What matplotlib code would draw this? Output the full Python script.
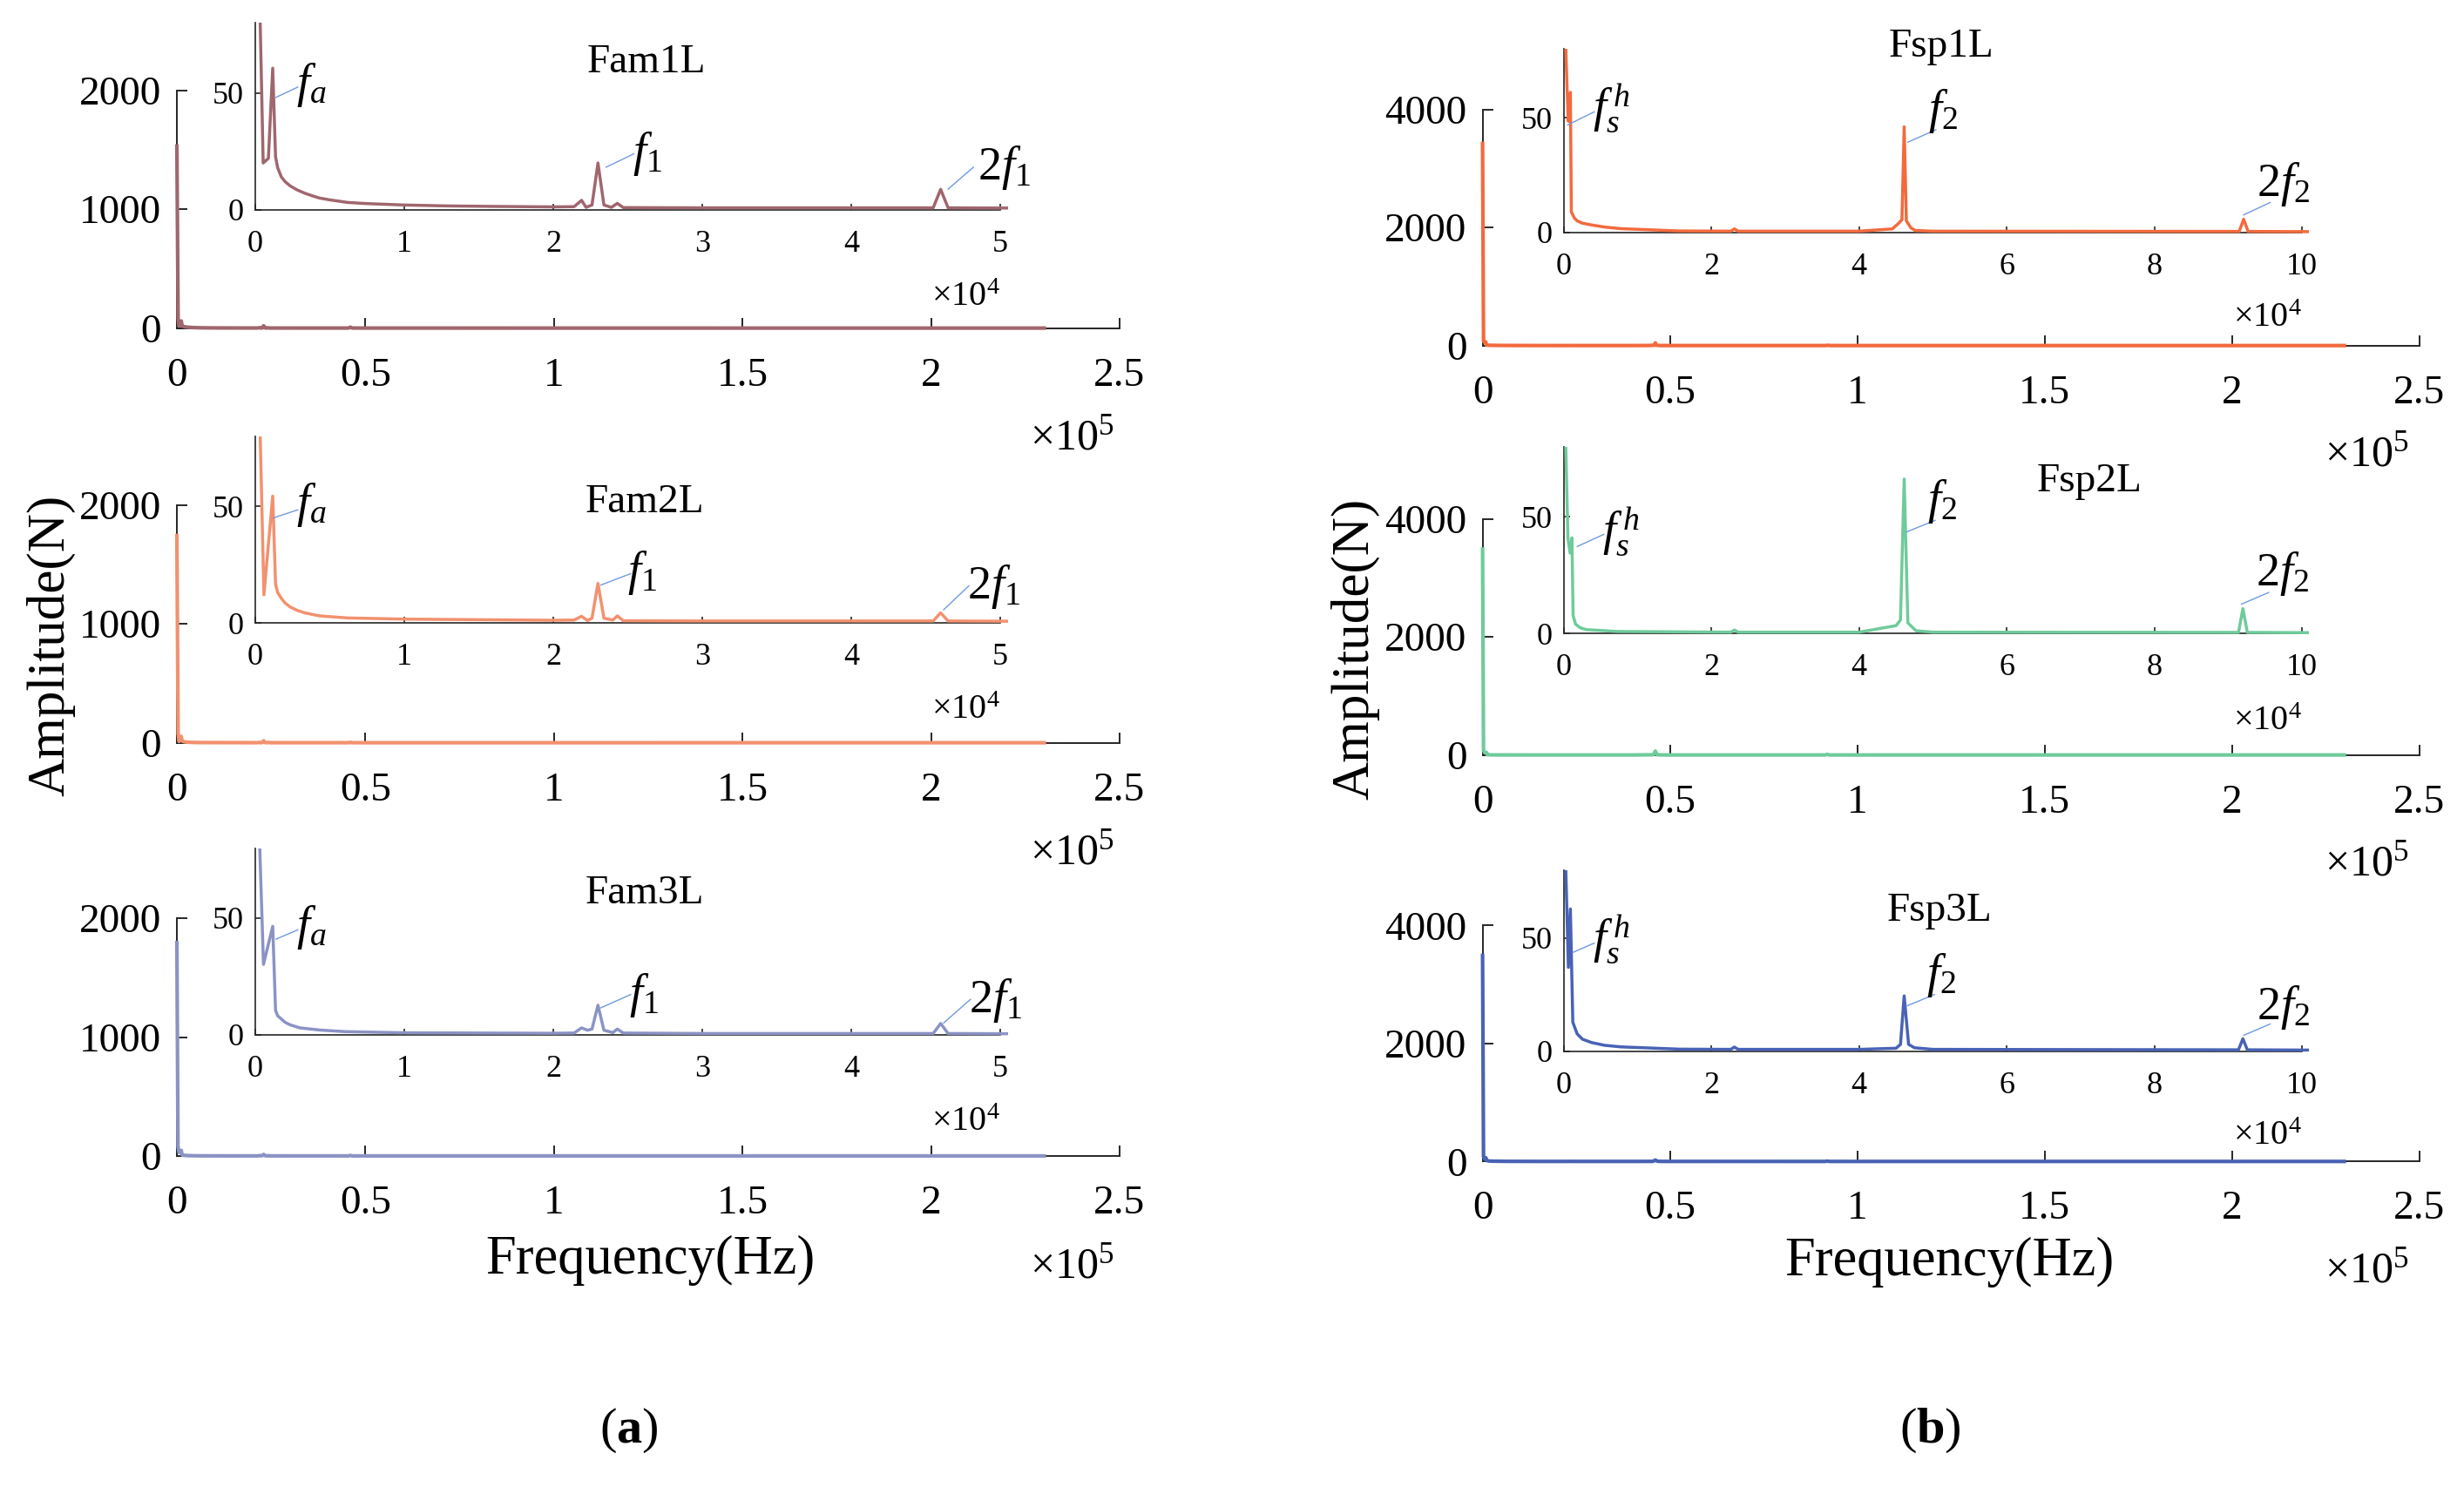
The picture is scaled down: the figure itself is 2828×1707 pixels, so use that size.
import matplotlib
matplotlib.use('Agg')
import matplotlib.pyplot as plt
from matplotlib.transforms import Bbox, TransformedBbox

plt.rcParams['font.family'] = ['Liberation Serif', 'DejaVu Serif']
plt.rcParams['mathtext.fontset'] = 'custom'
plt.rcParams['mathtext.rm'] = 'Liberation Serif'
plt.rcParams['mathtext.it'] = 'Liberation Serif:italic'
plt.rcParams['mathtext.bf'] = 'Liberation Serif:bold'

# ---------------- data (Hz, N) ----------------
fam1_freq = [0, 330, 530, 880, 1170, 1360, 1500, 1750, 2000, 2340, 2800, 3300, 3800, 4300, 5000,
             6200, 7500, 10000, 13000, 16000, 20000, 21400, 21900, 22200, 22600, 23000, 23400,
             23900, 24300, 24700, 30000, 45500, 46000, 46500, 50000, 100000, 230000]
fam1_amp = [1531, 80, 20, 22, 60.6, 22.6, 18, 14, 12, 10.2, 8.5, 7.1, 6, 5, 4.2,
            3.1, 2.6, 2, 1.6, 1.4, 1.2, 1.3, 4, 1.0, 2, 20, 2,
            1.0, 2.7, 0.9, 0.8, 0.8, 8.7, 0.8, 0.7, 0.6, 0.5]

fam2_freq = [0, 330, 580, 1170, 1360, 1500, 1750, 2000, 2340, 2800, 3300, 4300, 6200, 10000,
             20000, 21400, 21900, 22300, 22600, 23000, 23400, 24000, 24300, 24700, 30000,
             45500, 46000, 46500, 50000, 230000]
fam2_amp = [1743, 80, 12, 54.3, 16.7, 13, 10.5, 8.5, 6.8, 5.4, 4.3, 3.0, 2.1, 1.6,
            1.1, 1.2, 2.8, 1.0, 2.0, 16.9, 2.0, 1.2, 3.0, 0.9, 0.8,
            0.8, 4.3, 0.8, 0.7, 0.5]

fam3_freq = [0, 300, 550, 1170, 1360, 1500, 1750, 2000, 2340, 3000, 4300, 6000, 10000, 20000,
             21400, 21900, 22300, 22600, 23000, 23400, 24000, 24300, 24700, 30000, 45500, 46000,
             46500, 50000, 230000]
fam3_amp = [1794, 80, 30.2, 46.5, 10.5, 8.2, 6.8, 5.4, 4.3, 3.0, 2.1, 1.4, 0.9, 0.7,
            0.8, 3.0, 2.0, 2.5, 12.7, 2.0, 1.0, 2.5, 0.8, 0.6, 0.6, 4.9,
            0.6, 0.5, 0.4]

fsp1_freq = [0, 250, 450, 600, 870, 1000, 1400, 1780, 2500, 3750, 5500, 7700, 15600, 22600, 23100,
             23600, 40000, 44500, 45300, 45800, 46100, 46400, 47000, 47600, 50000, 91500, 92100,
             92700, 100000, 230000]
fsp1_amp = [3425, 80, 60, 48.4, 61, 8.9, 6.3, 5.0, 4.0, 3.2, 2.3, 1.6, 0.6, 0.5, 1.5,
            0.5, 0.5, 1.5, 3.8, 5.5, 46, 5.0, 2.0, 0.8, 0.5, 0.4, 5.7,
            0.4, 0.3, 0.3]

fsp2_freq = [0, 250, 540, 830, 1080, 1240, 1570, 2200, 3000, 7200, 22600, 23100, 23600, 40000,
             45000, 45600, 46100, 46600, 47700, 50000, 91400, 92000, 92600, 100000, 230000]
fsp2_amp = [3490, 80, 41, 34.5, 41, 7.7, 4.0, 2.5, 1.7, 0.9, 0.6, 1.5, 0.6, 0.6,
            3.4, 5.8, 66.2, 4.6, 1.2, 0.6, 0.5, 10.7, 0.5, 0.4, 0.4]

fsp3_freq = [0, 250, 600, 870, 1200, 1780, 2500, 3750, 5500, 7700, 15600, 22600, 23100, 23600,
             40000, 45000, 45600, 46100, 46700, 47500, 50000, 91400, 92000, 92600, 100000, 230000]
fsp3_amp = [3490, 80, 37, 62.8, 12.8, 7.7, 5.3, 3.8, 2.6, 1.9, 0.9, 0.8, 1.8, 0.8,
            0.8, 1.3, 3.0, 24.4, 3.0, 1.5, 0.8, 0.6, 5.5, 0.6, 0.5, 0.5]

panel_names = ['Fam1L', 'Fam2L', 'Fam3L', 'Fsp1L', 'Fsp2L', 'Fsp3L']
panel_colors = ['#A0666E', '#F2916F', '#8B93C5', '#F36A3D', '#6FCB9B', '#4862B5']

main_xticks = [0, 50000, 100000, 150000, 200000, 250000]
main_xticklabels = ['0', '0.5', '1', '1.5', '2', '2.5']
left_yticks = [0, 1000, 2000]
right_yticks = [0, 2000, 4000]
left_inset_xticks = [0, 10000, 20000, 30000, 40000, 50000]
left_inset_xticklabels = ['0', '1', '2', '3', '4', '5']
right_inset_xticks = [0, 20000, 40000, 60000, 80000, 100000]
right_inset_xticklabels = ['0', '2', '4', '6', '8', '10']
inset_yticks = [0, 50]

# annotations: label, peak point (line start), line end, text anchor
ann_labels_left = [r'$f_a$', r'$f_1$', r'$\mathit{2}f_1$']
ann_labels_right = [r'$f_s^{\,h}$', r'$f_2$', r'$\mathit{2}f_2$']
ann_left = [
    [((1390, 48.1), (2850, 52.5), (2750, 53.5)),
     ((23550, 18.2), (25400, 23.9), (25300, 23.8)),
     ((46500, 8.8), (48200, 18.2), (48500, 17.8))],
    [((1230, 45.0), (2850, 48.4), (2750, 50.4)),
     ((23200, 16.2), (25200, 21.1), (25000, 21.5)),
     ((46200, 5.6), (47900, 15.9), (47800, 15.6))],
    [((1390, 41.0), (2850, 45.0), (2750, 46.0)),
     ((23200, 11.6), (25200, 17.3), (25100, 16.8)),
     ((46200, 5.1), (48000, 15.2), (47900, 14.8))],
]
ann_right = [
    [((500, 46.8), (4100, 52.5), (3900, 54.4)),
     ((46600, 39.3), (50400, 44.7), (49400, 52.7)),
     ((92100, 7.6), (95700, 13.0), (93900, 21.0))],
    [((1800, 37.3), (5400, 42.5), (5200, 43.8)),
     ((46400, 43.5), (50300, 48.5), (49200, 56.5)),
     ((91800, 12.6), (95500, 17.6), (93700, 25.5))],
    [((1200, 43.6), (4100, 47.7), (3900, 49.5)),
     ((46400, 19.9), (50200, 25.0), (49100, 33.7)),
     ((92100, 7.0), (95700, 12.0), (93900, 19.5))],
]

# ---------------- layout (pixels) ----------------
W, H = 2828, 1707
fig = plt.figure(figsize=(W / 100, H / 100), dpi=100)

def box(x0, ybot, w, h):
    return [x0 / W, 1 - ybot / H, w / W, h / H]

main_left_pos = [box(203, y, 1082, 273) for y in (376.7, 852.7, 1327)]
main_right_pos = [box(1701.6, y, 1075, 271) for y in (396.7, 866.7, 1333.3)]
inset_left_pos = [box(293, y, 855, 214.4) for y in (240.7, 715, 1188)]
inset_right_pos = [box(1795, y, 847, h) for y, h in ((266.7, 210.7), (727.3, 214.4), (1206.7, 208))]

SP = '#262626'
LEAD = '#6F9AE0'

def style(ax, size, length, pad_x, pad_y, lw):
    for s in ('top', 'right'):
        ax.spines[s].set_visible(False)
    for s in ('left', 'bottom'):
        ax.spines[s].set_color(SP)
        ax.spines[s].set_linewidth(lw)
    ax.tick_params(axis='both', direction='in', length=length, width=lw, colors=SP,
                   labelsize=size, labelcolor='black')
    ax.tick_params(axis='x', pad=pad_x)
    ax.tick_params(axis='y', pad=pad_y)

freqs = [fam1_freq, fam2_freq, fam3_freq, fsp1_freq, fsp2_freq, fsp3_freq]
amps = [fam1_amp, fam2_amp, fam3_amp, fsp1_amp, fsp2_amp, fsp3_amp]
title_pos = [(742, 83), (740, 588), (740, 1037), (2228, 65), (2398, 564), (2226, 1057)]

for i in range(6):
    left = i < 3
    k = i % 3
    col = panel_colors[i]
    ax = fig.add_axes(main_left_pos[k] if left else main_right_pos[k])
    ax.plot(freqs[i], amps[i], color=col, lw=3.0, zorder=3, clip_on=False)
    ax.set_xlim(0, 250000)
    ax.set_ylim(0, 2000 if left else 4000)
    ax.set_xticks(main_xticks)
    ax.set_xticklabels(main_xticklabels)
    ax.set_yticks(left_yticks if left else right_yticks)
    ax.set_yticklabels([str(v) for v in (left_yticks if left else right_yticks)])
    style(ax, 34, 8.6, 24, 13, 1.4)
    ax.text(0.994 if left else 0.989, -0.51, '×10$^{5}$', transform=ax.transAxes,
            ha='right', va='baseline', fontsize=36)

    ins = fig.add_axes(inset_left_pos[k] if left else inset_right_pos[k])
    ins.set_facecolor('none')
    ln, = ins.plot(freqs[i], amps[i], color=col, lw=2.5, zorder=3)
    ln.set_clip_box(TransformedBbox(Bbox([[-0.01, -0.03], [1.01, 1.0]]), ins.transAxes))
    ins.set_ylim(0, 80)
    ins.set_yticks(inset_yticks)
    ins.set_yticklabels(['0', '50'])
    if left:
        ins.set_xlim(0, 50000)
        ins.set_xticks(left_inset_xticks)
        ins.set_xticklabels(left_inset_xticklabels)
    else:
        ins.set_xlim(0, 100000)
        ins.set_xticks(right_inset_xticks)
        ins.set_xticklabels(right_inset_xticklabels)
    style(ins, 26, 5, 16.5, 9.5, 1.2)
    ins.text(1.0, -0.515, '×10$^{4}$', transform=ins.transAxes,
             ha='right', va='baseline', fontsize=29)

    labels = ann_labels_left if left else ann_labels_right
    anns = ann_left[k] if left else ann_right[k]
    for lab, (p0, p1, pt) in zip(labels, anns):
        ins.plot([p0[0], p1[0]], [p0[1], p1[1]], color=LEAD, lw=1.0, zorder=4)
        ins.text(pt[0], pt[1], lab, fontsize=39, ha='left', va='center', zorder=5)

    tx, ty = title_pos[i]
    fig.text(tx / W, 1 - ty / H, panel_names[i], fontsize=34, ha='center', va='baseline')

# axis labels
fig.text(58 / W, 1 - 741 / H, 'Amplitude(N)', rotation=90, fontsize=44, ha='center', va='center')
fig.text(1555 / W, 1 - 745 / H, 'Amplitude(N)', rotation=90, fontsize=44, ha='center', va='center')
fig.text(746 / W, 1 - 1447 / H, 'Frequency(Hz)', fontsize=45, ha='center', va='center')
fig.text(2237 / W, 1 - 1449 / H, 'Frequency(Hz)', fontsize=45, ha='center', va='center')
fig.text(722 / W, 1 - 1642 / H, r'($\mathbf{a}$)', fontsize=42, ha='center', va='center')
fig.text(2215 / W, 1 - 1642 / H, r'($\mathbf{b}$)', fontsize=42, ha='center', va='center')

fig.savefig('out.png', dpi=100)
